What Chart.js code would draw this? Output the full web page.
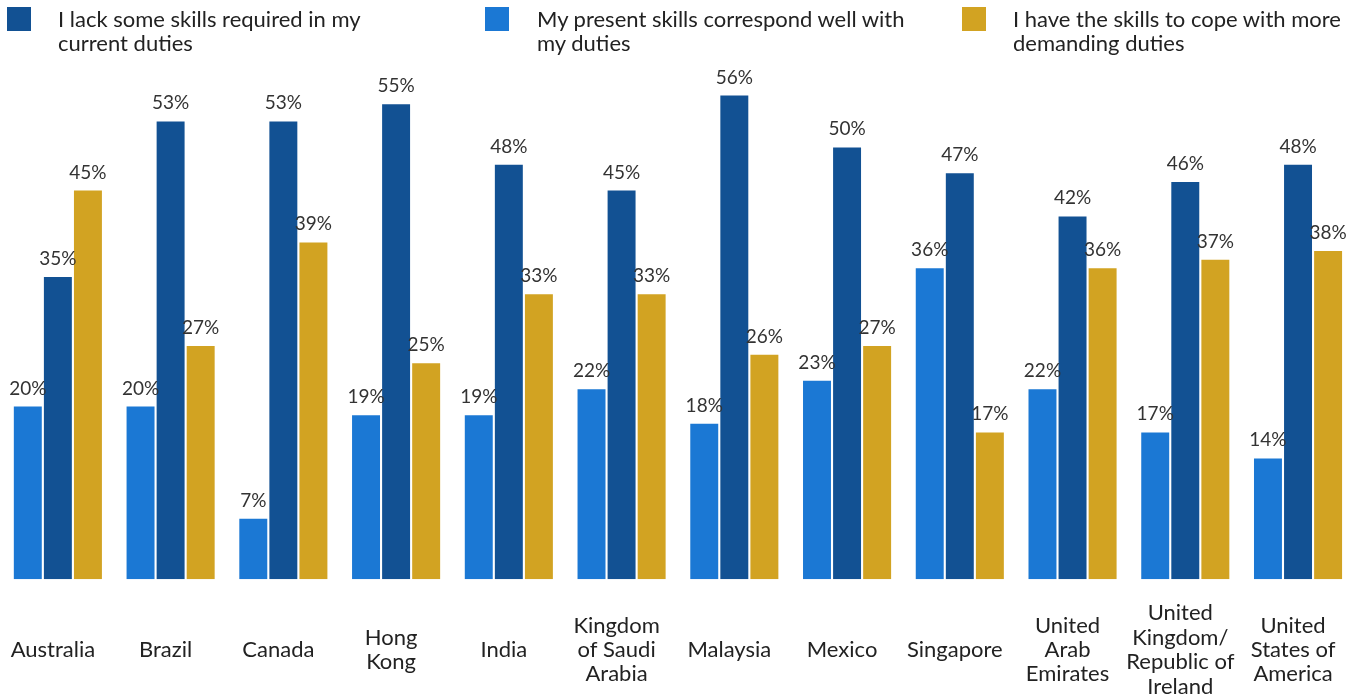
<!DOCTYPE html>
<html>
<head>
<meta charset="utf-8">
<script src="https://cdn.jsdelivr.net/npm/chart.js@4"></script>
<style>
  html, body {
    margin: 0;
    padding: 0;
    width: 1359px;
    height: 698px;
    overflow: hidden;
    background: #fff;
    font-family: Lato, sans-serif;
  }
  #wrap {
    position: relative;
    width: 1359px;
    height: 745px;
  }
  #chart-skills {
    position: absolute;
    left: 0;
    top: 0;
  }
  .legend-item {
    position: absolute;
    top: 7px;
    font-size: 22px;
    line-height: 24px;
    color: #222;
    white-space: nowrap;
  }
  .legend-box {
    position: absolute;
    width: 24px;
    height: 24px;
  }
</style>
</head>
<body>
<div id="wrap">
  <canvas id="chart-skills" width="1359" height="745"></canvas>
  <div id="legend"></div>
</div>
<script>
// countries on the x axis (multi-line labels)
const labelsCountry = [
  "Australia",
  "Brazil",
  "Canada",
  ["Hong", "Kong"],
  "India",
  ["Kingdom", "of Saudi", "Arabia"],
  "Malaysia",
  "Mexico",
  "Singapore",
  ["United", "Arab", "Emirates"],
  ["United", "Kingdom/", "Republic of", "Ireland"],
  ["United", "States of", "America"],
];

// percentages per country
const dataPresentSkills = [20, 20, 7, 19, 19, 22, 18, 23, 36, 22, 17, 14];
const dataLackSkills = [35, 53, 53, 55, 48, 45, 56, 50, 47, 42, 46, 48];
const dataMoreDemanding = [45, 27, 39, 25, 33, 33, 26, 27, 17, 36, 37, 38];

const colorLight = "#1b78d4";
const colorDark = "#125193";
const colorGold = "#d2a322";

// legend entries, in the order they appear on top
const legendItems = [
  { text: "I lack some skills required in my<br>current duties", color: colorDark, left: 7, textLeft: 58 },
  { text: "My present skills correspond well with<br>my duties", color: colorLight, left: 485, textLeft: 537 },
  { text: "I have the skills to cope with more<br>demanding duties", color: colorGold, left: 962, textLeft: 1013 },
];

const legendEl = document.getElementById("legend");
legendEl.innerHTML = legendItems
  .map(
    (item) => `
    <div class="legend-box" style="left:${item.left}px;top:7px;background:${item.color}"></div>
    <div class="legend-item" style="left:${item.textLeft}px">${item.text}</div>`
  )
  .join("");

// draw the percentage above each bar
const barValueLabels = {
  id: "barValueLabels",
  afterDatasetsDraw(chart) {
    const ctx = chart.ctx;
    ctx.save();
    ctx.font = "19px Lato, sans-serif";
    ctx.fillStyle = "#333";
    ctx.textAlign = "center";
    ctx.textBaseline = "alphabetic";
    chart.data.datasets.forEach((dataset, i) => {
      const meta = chart.getDatasetMeta(i);
      meta.data.forEach((bar, j) => {
        ctx.fillText(dataset.data[j] + "%", bar.x, bar.y - 12);
      });
    });
    ctx.restore();
  },
};

const ctxSkills = document.getElementById("chart-skills");
new Chart(ctxSkills, {
  type: "bar",
  data: {
    labels: labelsCountry,
    datasets: [
      {
        label: "My present skills correspond well with my duties",
        data: dataPresentSkills,
        backgroundColor: colorLight,
      },
      {
        label: "I lack some skills required in my current duties",
        data: dataLackSkills,
        backgroundColor: colorDark,
      },
      {
        label: "I have the skills to cope with more demanding duties",
        data: dataMoreDemanding,
        backgroundColor: colorGold,
      },
    ],
  },
  options: {
    responsive: false,
    animation: false,
    devicePixelRatio: 1,
    datasets: {
      bar: {
        categoryPercentage: 0.8,
        barPercentage: 0.93,
      },
    },
    layout: {
      padding: { top: 61, left: 1.5, right: 4.6, bottom: 0 },
    },
    plugins: {
      legend: { display: false },
      tooltip: { enabled: false },
    },
    scales: {
      y: {
        display: false,
        min: 0,
        max: 60,
      },
      x: {
        border: { display: false },
        grid: { display: false, drawTicks: false, tickLength: 0 },
        // labels sit inside their categories, no extra side padding
        afterFit(scale) {
          scale.paddingLeft = 0;
          scale.paddingRight = 0;
        },
        ticks: {
          autoSkip: false,
          maxRotation: 0,
          minRotation: 0,
          padding: 34,
          labelOffset: -5,
          crossAlign: "center",
          color: "#222",
          font: { family: "Lato", size: 22, lineHeight: 1.11 },
        },
      },
    },
  },
  plugins: [barValueLabels],
});
</script>
</body>
</html>
